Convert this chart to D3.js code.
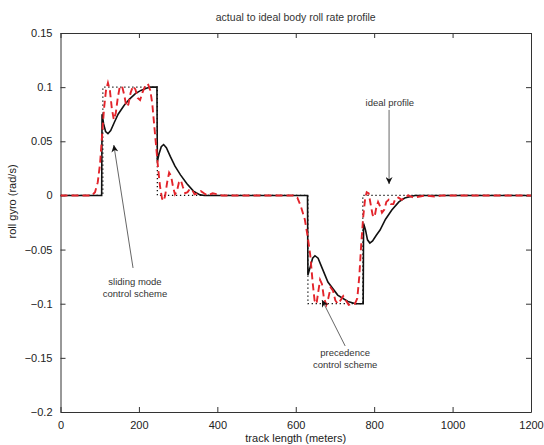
<!DOCTYPE html>
<html>
<head>
<meta charset="utf-8">
<script src="https://d3js.org/d3.v7.min.js"></script>
<style>
    body { margin: 0; background: #fff; }
    svg { display: block; font-family: 'Liberation Sans', Arial, Helvetica, sans-serif; }
    .axis line, .axis path { stroke: #333; }
    .axis text { fill: #222; font-size: 11px; }
</style>
</head>
<body>
<svg id="chart" width="544" height="445"></svg>
<script>
// tick values
const xTicks = [0, 200, 400, 600, 800, 1000, 1200];
const yTicks = [0.15, 0.1, 0.05, 0, -0.05, -0.1, -0.15, -0.2];

// ideal body roll rate profile [track length (m), roll rate (rad/s)]
const idealProfile = [
    [0, 0], [108, 0], [108, 0.1], [247, 0.1], [247, 0],
    [631, 0], [631, -0.1], [771, -0.1], [771, 0], [1200, 0]
];

// sliding mode control scheme (solid black)
const slidingMode = [
    [0, 0], [105, 0], [106, 0.075], [110, 0.066], [115, 0.059], [121, 0.057],
    [128, 0.060], [138, 0.068], [147, 0.075], [162, 0.083], [176, 0.089],
    [191, 0.094], [205, 0.097], [219, 0.099], [229, 0.1], [246, 0.1],
    [247, 0.031], [251, 0.038], [257, 0.045], [263, 0.047], [270, 0.044],
    [280, 0.036], [292, 0.027], [306, 0.019], [322, 0.011], [339, 0.004],
    [356, 0.0005], [368, 0],
    [630, 0], [631, -0.0735], [637, -0.066], [643, -0.058], [649, -0.0557],
    [657, -0.058], [666, -0.066], [682, -0.08], [707, -0.092], [733, -0.098],
    [753, -0.1], [772, -0.1], [773, -0.026], [778, -0.032], [783, -0.041],
    [789, -0.044], [796, -0.042], [805, -0.037], [815, -0.032], [829, -0.022],
    [845, -0.0135], [863, -0.006], [878, -0.0024], [904, 0], [1200, 0]
];

// precedence control scheme (dashed red)
const precedence = [
    [0, 0], [80, 0], [88, 0.003], [95, 0.012], [101, 0.03], [106, 0.055],
    [111, 0.08], [116, 0.097], [121, 0.104], [126, 0.097], [131, 0.08],
    [136, 0.07], [141, 0.076], [146, 0.09], [151, 0.1], [157, 0.101],
    [163, 0.092], [168, 0.082], [173, 0.084], [179, 0.095], [185, 0.101],
    [191, 0.098], [197, 0.09], [203, 0.088], [209, 0.095], [216, 0.101],
    [223, 0.103], [229, 0.097], [234, 0.085], [239, 0.065], [244, 0.045],
    [249, 0.025], [254, 0.008], [259, -0.003], [263, -0.005], [267, 0],
    [272, 0.012], [277, 0.021], [282, 0.018], [287, 0.008], [292, 0.001],
    [297, 0.004], [302, 0.012], [307, 0.014], [312, 0.008], [318, 0.002],
    [324, 0.003], [330, 0.006], [336, 0.005], [342, 0.001], [350, 0.002],
    [358, 0.004], [366, 0.002], [375, 0], [388, 0.002], [400, 0.001],
    [412, 0], [594, 0], [604, -0.002], [613, -0.01], [623, -0.022],
    [630, -0.037], [637, -0.055], [643, -0.08], [648, -0.097], [653, -0.1],
    [657, -0.09], [662, -0.078], [667, -0.082], [672, -0.095], [678, -0.101],
    [683, -0.095], [689, -0.085], [695, -0.088], [701, -0.097], [707, -0.1],
    [714, -0.097], [721, -0.093], [728, -0.097], [735, -0.101], [743, -0.1],
    [751, -0.1], [757, -0.095], [762, -0.075], [767, -0.045], [772, -0.02],
    [777, -0.003], [781, 0.003], [786, 0.002], [791, -0.008], [796, -0.018],
    [801, -0.02], [805, -0.012], [810, -0.006], [815, -0.01], [820, -0.016],
    [826, -0.013], [831, -0.006], [837, -0.004], [843, -0.008], [849, -0.008],
    [854, -0.003], [862, -0.002], [870, -0.004], [878, -0.002], [887, 0],
    [901, -0.002], [916, -0.001], [930, 0], [954, -0.001], [974, 0], [1200, 0]
];

// annotations: text lines at [x, y], arrow from tail to tip (data units)
const notes = [
    { lines: ['ideal profile'], at: [840, 0.0853], tail: [838, 0.079], tip: [838, 0.0105] },
    { lines: ['sliding mode', 'control scheme'], at: [190, -0.080], tail: [185, -0.067], tip: [136, 0.0465] },
    { lines: ['precedence', 'control scheme'], at: [726, -0.1455], tail: [726, -0.139], tip: [667, -0.0966] }
];

const titleText = 'actual to ideal body roll rate profile';
const xLabel = 'track length (meters)';
const yLabel = 'roll gyro (rad/s)';

let config = {
    left: 60.5,
    right: 531,
    top: 33,
    bottom: 412,
    tick: 5,
}

const svg = d3.select('#chart');

let x = d3.scaleLinear().domain([0, 1200]).range([config.left, config.right]);
let y = d3.scaleLinear().domain([-0.2, 0.15]).range([config.bottom, config.top]);

const fmt = function(d) { return d3.format('')(d).replace('-', '\u2212'); };

// axes with inward ticks, mirrored on top and right
svg.append('g').classed('axis', true)
    .attr('transform', 'translate(0,' + config.bottom + ')')
    .call(d3.axisBottom(x).tickValues(xTicks).tickSizeInner(-config.tick).tickSizeOuter(0).tickPadding(9).tickFormat(fmt));
svg.append('g').classed('axis', true)
    .attr('transform', 'translate(0,' + config.top + ')')
    .call(d3.axisTop(x).tickValues(xTicks).tickSizeInner(-config.tick).tickSizeOuter(0).tickFormat(''));
svg.append('g').classed('axis', true)
    .attr('transform', 'translate(' + config.left + ',0)')
    .call(d3.axisLeft(y).tickValues(yTicks).tickSizeInner(-config.tick).tickSizeOuter(0).tickPadding(8).tickFormat(fmt));
svg.append('g').classed('axis', true)
    .attr('transform', 'translate(' + config.right + ',0)')
    .call(d3.axisRight(y).tickValues(yTicks).tickSizeInner(-config.tick).tickSizeOuter(0).tickFormat(''));

svg.selectAll('.axis .tick line').attr('stroke', '#444');

// clip lines to plot box
svg.append('clipPath').attr('id', 'clip')
    .append('rect')
    .attr('x', config.left).attr('y', config.top)
    .attr('width', config.right - config.left).attr('height', config.bottom - config.top);

const plot = svg.append('g').attr('clip-path', 'url(#clip)');

let line = d3.line()
    .x(function(d) { return x(d[0]) })
    .y(function(d) { return y(d[1]) });

plot.append('path')
    .datum(slidingMode)
    .attr('d', line)
    .attr('fill', 'none')
    .attr('stroke', '#111')
    .attr('stroke-width', 1.6);

plot.append('path')
    .datum(idealProfile)
    .attr('d', line)
    .attr('fill', 'none')
    .attr('stroke', '#111')
    .attr('stroke-width', 1.3)
    .attr('stroke-dasharray', '1.3,2.7');

plot.append('path')
    .datum(precedence)
    .attr('d', line)
    .attr('fill', 'none')
    .attr('stroke', '#e3242b')
    .attr('stroke-width', 1.9)
    .attr('stroke-dasharray', '7,4');

// title and axis labels
svg.append('text')
    .attr('x', (config.left + config.right) / 2).attr('y', 21)
    .attr('text-anchor', 'middle')
    .style('font-size', '10.5px').attr('fill', '#333')
    .text(titleText);

svg.append('text')
    .attr('x', (config.left + config.right) / 2).attr('y', 442)
    .attr('text-anchor', 'middle')
    .style('font-size', '11px').attr('fill', '#222')
    .text(xLabel);

svg.append('text')
    .attr('transform', 'translate(16,' + (y(0) + 6) + ') rotate(-90)')
    .attr('text-anchor', 'middle')
    .style('font-size', '11px').attr('fill', '#222')
    .text(yLabel);

// annotation arrows
svg.append('defs').append('marker')
    .attr('id', 'head')
    .attr('viewBox', '0 0 10 10')
    .attr('refX', 10).attr('refY', 5)
    .attr('markerWidth', 7).attr('markerHeight', 7)
    .attr('markerUnits', 'userSpaceOnUse')
    .attr('orient', 'auto')
    .append('path')
    .attr('d', 'M0,0 L10,5 L0,10 L3,5 Z')
    .attr('fill', '#111');

const ann = svg.append('g');
notes.forEach(function(n) {
    ann.append('line')
        .attr('x1', x(n.tail[0])).attr('y1', y(n.tail[1]))
        .attr('x2', x(n.tip[0])).attr('y2', y(n.tip[1]))
        .attr('stroke', '#555')
        .attr('stroke-width', 0.9)
        .attr('marker-end', 'url(#head)');
    n.lines.forEach(function(t, i) {
        ann.append('text')
            .attr('x', x(n.at[0]))
            .attr('y', y(n.at[1]) + i * 11.5)
            .attr('dy', '0.35em')
            .attr('text-anchor', 'middle')
            .style('font-size', '9.5px')
            .attr('fill', '#333')
            .text(t);
    });
});
</script>
</body>
</html>
